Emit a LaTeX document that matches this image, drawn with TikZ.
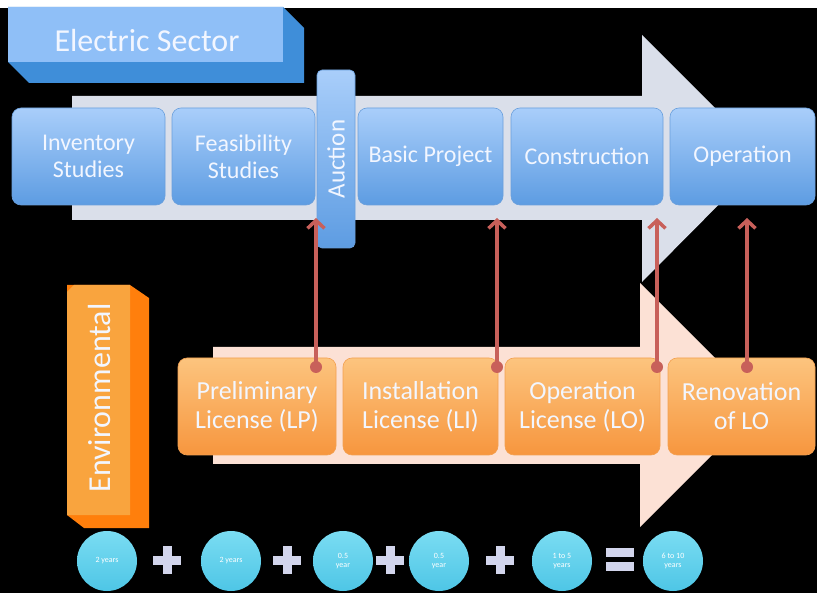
\documentclass[tikz,border=0pt]{standalone}
\usepackage{fontspec}
\setmainfont{Carlito}
\usetikzlibrary{arrows.meta,calc}

\definecolor{arrowblue}{HTML}{DADFEA}
\definecolor{arrowpeach}{HTML}{FCE1D5}
\definecolor{boxtop}{HTML}{A9CEFA}
\definecolor{boxbot}{HTML}{5D9CE2}
\definecolor{boxedge}{HTML}{6A9FDC}
\definecolor{titlefront}{HTML}{8FBFF7}
\definecolor{titleside}{HTML}{3F8ED9}
\definecolor{lictop}{HTML}{FCC47E}
\definecolor{licbot}{HTML}{F7963E}
\definecolor{licedge}{HTML}{F3A050}
\definecolor{envfront}{HTML}{F9A43E}
\definecolor{envside}{HTML}{FF7F0C}
\definecolor{linkred}{HTML}{C8605A}
\definecolor{ctop}{HTML}{7ADCF2}
\definecolor{cbot}{HTML}{4EC6E6}
\definecolor{signcol}{HTML}{D2D5EC}
\definecolor{labelwhite}{HTML}{F2F6FF}

\tikzset{
  stepbox/.style={rounded corners=9pt, top color=boxtop, bottom color=boxbot,
    draw=boxedge, line width=0.6pt, text=labelwhite, align=center,
    inner sep=0pt, minimum height=97pt, font=\fontsize{24}{27}\selectfont},
  licbox/.style={rounded corners=9pt, top color=lictop, bottom color=licbot,
    draw=licedge, line width=0.6pt, text=labelwhite, align=center,
    inner sep=0pt, minimum height=97pt, font=\fontsize{26}{29}\selectfont},
  yearbubble/.style={circle, minimum size=60pt, inner sep=0pt, top color=ctop,
    bottom color=cbot, text=white, align=center,
    font=\fontsize{8}{9}\selectfont},
  link/.style={draw=linkred, line width=3.5pt,
    -{Straight Barb[length=8pt,width=17pt]}},
  linkdot/.style={fill=linkred},
  signbar/.style={fill=signcol},
}

% plus sign centred on a named coordinate
\newcommand{\plusmark}[1]{%
  \fill[signbar] ($(#1)+(-14,-4.5)$) rectangle ($(#1)+(14,4.5)$);
  \fill[signbar] ($(#1)+(-4.5,-14)$) rectangle ($(#1)+(4.5,14)$);}

\begin{document}
\begin{tikzpicture}[x=1pt,y=-1pt]
\useasboundingbox (0,0) rectangle (817,593);
\fill[white] (0,0) rectangle (817,593);
\fill[black] (0,8) rectangle (817,593);

% ---- electric sector process arrow
\fill[arrowblue] (72,96) -- (642,96) -- (642,35) -- (765,158) -- (642,282)
  -- (642,220) -- (72,220) -- cycle;

\node[stepbox, minimum width=153pt] (inv)  at (88.5,156.5) {Inventory\\Studies};
\node[stepbox, minimum width=143pt] (feas) at (243.5,156.5) {Feasibility\\Studies};
\node[stepbox, minimum width=145pt] (basic) at (430.5,156.5) {Basic Project};
\node[stepbox, minimum width=152pt] (cons) at (587,156.5) {Construction};
\node[stepbox, minimum width=145pt] (oper) at (742.5,156.5) {Operation};
\node[stepbox, rounded corners=5pt, rotate=90, minimum width=178pt,
  minimum height=38pt, font=\fontsize{25}{27}\selectfont] (auction)
  at (336,159) {Auction};

% ---- title block with extruded sides
\fill[titleside] (8,7) -- (283,7) -- (304,28) -- (304,83) -- (29,83)
  -- (8,62) -- cycle;
\fill[titlefront] (8,7) rectangle (283,62);
\node[text=labelwhite, font=\fontsize{32}{34}\selectfont] (title)
  at (147,41) {Electric Sector};

% ---- environmental licensing arrow
\fill[arrowpeach] (213,347) -- (640,347) -- (640,283) -- (762,405)
  -- (640,527) -- (640,464) -- (213,464) -- cycle;

\fill[envside] (67,285) -- (130,285) -- (149,298) -- (149,528) -- (84,528)
  -- (67,515) -- cycle;
\fill[envfront] (74,285) -- (130,285) -- (130,515) -- (67,515) -- (67,292)
  -- cycle;
\node[rotate=90, text=labelwhite, font=\fontsize{32}{34}\selectfont] (env)
  at (100,398) {Environmental};

\node[licbox, minimum width=158pt] (prelim) at (257,406.5)
  {Preliminary\\License (LP)};
\node[licbox, minimum width=155pt] (inst) at (420.5,406.5)
  {Installation\\License (LI)};
\node[licbox, minimum width=155pt] (oplic) at (582.5,406.5)
  {Operation\\License (LO)};
\node[licbox, minimum width=147pt] (renov) at (741.5,406.5)
  {Renovation\\of LO};

% ---- licence to stage links
\coordinate (s1) at (316,367);  \coordinate (e1) at (316,218);
\coordinate (s2) at (497,367);  \coordinate (e2) at (497,218);
\coordinate (s3) at (657,367);  \coordinate (e3) at (657,218);
\coordinate (s4) at (747,367);  \coordinate (e4) at (747,218);
\foreach \i in {1,...,4}{
  \draw[link] (s\i) -- (e\i);
  \fill[linkdot] (s\i) circle (6pt);
}

% ---- duration sum
\node[yearbubble] (y1) at (107,561) {2 years};
\node[yearbubble] (y2) at (231,561) {2 years};
\node[yearbubble] (y3) at (343,561) {0.5\\year};
\node[yearbubble] (y4) at (439,561) {0.5\\year};
\node[yearbubble] (y5) at (562,561) {1 to 5\\years};
\node[yearbubble] (y6) at (673,561) {6 to 10\\years};

\coordinate (p1) at (167,560);
\coordinate (p2) at (287,560);
\coordinate (p3) at (390,560);
\coordinate (p4) at (500,560);
\plusmark{p1}\plusmark{p2}\plusmark{p3}\plusmark{p4}

\coordinate (eq) at (620,559);
\fill[signbar] ($(eq)+(-14,-11)$) rectangle ($(eq)+(14,-2)$);
\fill[signbar] ($(eq)+(-14,3)$) rectangle ($(eq)+(14,12)$);
\end{tikzpicture}
\end{document}
